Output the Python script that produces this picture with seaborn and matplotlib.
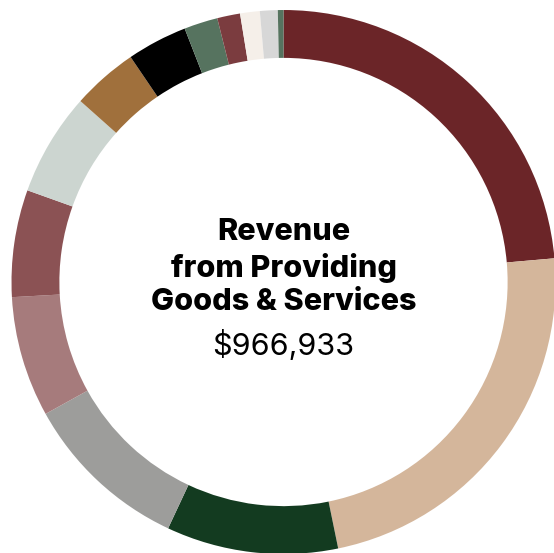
import matplotlib
matplotlib.use("Agg")
import matplotlib.pyplot as plt
import seaborn as sns

# revenue by source (dollars), clockwise from 12 o'clock
sources = ["s1", "s2", "s3", "s4", "s5", "s6", "s7",
           "s8", "s9", "s10", "s11", "s12", "s13", "s14"]
amounts = [228303, 224005, 98573, 96424, 69297, 61507, 59091,
           37871, 34648, 19339, 13161, 11281, 10206, 3227]
colors = ["#6b2528", "#d4b69b", "#133b20", "#9d9d9b", "#a67b7c", "#8b5254",
          "#ccd5d0", "#a0703c", "#000000", "#56735f", "#7b3c3f", "#f5efe9",
          "#d7d7d7", "#56735f"]

title_lines = ["Revenue", "from Providing", "Goods & Services"]
total_label = "$966,933"

sns.set_theme(style="white")
plt.rcParams["font.family"] = ["Inter", "DejaVu Sans"]

fig = plt.figure(figsize=(5.54, 5.53), dpi=100)
ax = fig.add_axes([0, 0, 1, 1])
ax.pie(amounts, colors=colors, startangle=90, counterclock=False,
       radius=1, wedgeprops=dict(width=0.176, linewidth=0))
ax.set_aspect("auto")
ax.set_xlim(-1.0423, 0.9945)
ax.set_ylim(-0.9963, 1.0368)
ax.axis("off")

for y, line in zip([0.184, 0.051, -0.072], title_lines):
    ax.text(0, y, line, ha="center", va="center", fontsize=22,
            fontweight="heavy", color="black")
ax.text(0, -0.232, total_label, ha="center", va="center", fontsize=22,
        color="black")

fig.savefig("out.png", dpi=100)
